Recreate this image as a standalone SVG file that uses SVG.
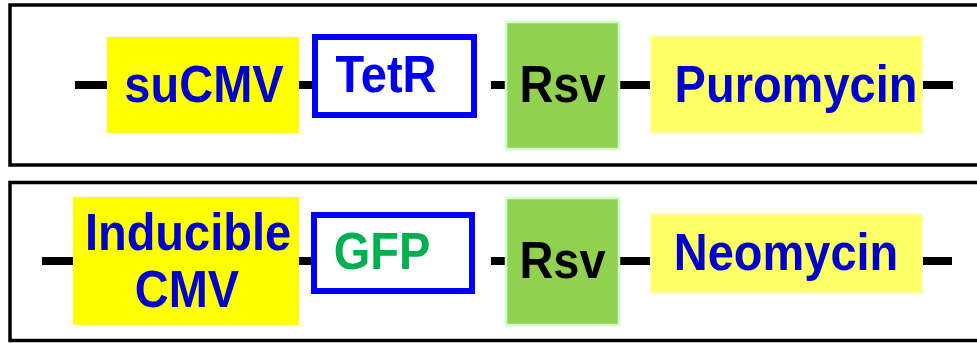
<svg xmlns="http://www.w3.org/2000/svg" width="977" height="343" viewBox="0 0 977 343">
<style>
.frame{fill:#fff;stroke:#000;stroke-width:3.5}
.prom{fill:#ffff00}
.res{fill:#ffff66;stroke:#ffffa8;stroke-width:2}
.rsv{fill:#92d050;stroke:#ccffcc;stroke-width:2.5}
.gene{fill:#fff;stroke:#0000ff;stroke-width:6}
.ln{stroke:#000;stroke-width:8;fill:none}
text{font-family:"Liberation Sans",Arial,sans-serif;font-weight:bold;font-size:47px;text-anchor:middle}
.b{fill:#0000cc}
.k{fill:#000}
.g{fill:#00b050}
.t{fill:#0000f0}
</style>
<rect class="frame" x="10" y="5" width="980" height="160"/>
<rect class="frame" x="10" y="182.5" width="980" height="158"/>
<g id="connectors">
<line class="ln" x1="75" y1="85" x2="108" y2="85"/>
<line class="ln" x1="298" y1="85" x2="314" y2="85"/>
<line class="ln" x1="491" y1="85" x2="506" y2="85"/>
<line class="ln" x1="619" y1="85" x2="651" y2="85"/>
<line class="ln" x1="922" y1="85" x2="953" y2="85"/>
<line class="ln" x1="42" y1="261" x2="74" y2="261"/>
<line class="ln" x1="298" y1="261" x2="313" y2="261"/>
<line class="ln" x1="491" y1="261" x2="506" y2="261"/>
<line class="ln" x1="619" y1="261" x2="651" y2="261"/>
<line class="ln" x1="921" y1="261" x2="952" y2="261"/>
</g>
<g id="suCMV"><rect class="prom" x="107" y="37" width="192" height="96"/><text class="b" transform="translate(204,102) scale(1,1.1)">suCMV</text></g>
<g id="TetR"><rect class="gene" x="315" y="37" width="159" height="78"/><text class="t" transform="translate(386,92) scale(1,1.1)">TetR</text></g>
<g id="Rsv1"><rect class="rsv" x="506" y="22" width="113" height="127"/><text class="k" transform="translate(562.5,102) scale(1,1.1)">Rsv</text></g>
<g id="Puromycin"><rect class="res" x="651" y="36" width="271" height="97"/><text class="b" transform="translate(796,102) scale(1,1.1)">Puromycin</text></g>
<g id="InducibleCMV"><rect class="prom" x="73" y="197" width="226" height="128"/><text class="b" transform="translate(188,250) scale(1,1.1)">Inducible</text><text class="b" transform="translate(187,307) scale(1,1.1)">CMV</text></g>
<g id="GFP"><rect class="gene" x="314" y="215" width="158" height="76"/><text class="g" transform="translate(382,269) scale(1,1.1)">GFP</text></g>
<g id="Rsv2"><rect class="rsv" x="506" y="198" width="113" height="127"/><text class="k" transform="translate(562.5,278) scale(1,1.1)">Rsv</text></g>
<g id="Neomycin"><rect class="res" x="651" y="214" width="271" height="79"/><text class="b" transform="translate(786,270) scale(1,1.1)">Neomycin</text></g>
</svg>
